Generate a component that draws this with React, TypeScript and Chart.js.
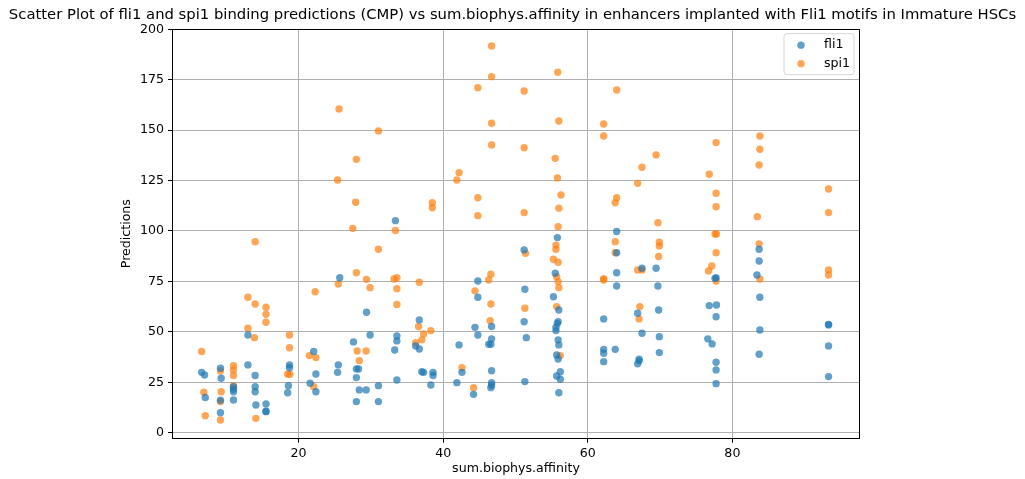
import React, { useEffect, useRef } from 'react';
import { Chart, registerables } from 'chart.js';

Chart.register(...registerables);

// ---- data ----
const fli1X = [
  6.6, 7.0, 7.1,
  9.2, 9.3, 9.2, 9.2,
  11.0, 11.0, 11.0, 11.0,
  13.0, 13.0, 14.0, 14.0, 14.0, 14.1,
  15.5, 15.5, 15.5,
  18.75, 18.75, 18.6, 18.5,
  22.1, 21.6, 22.4, 22.4,
  25.7, 25.5, 25.4,
  27.6, 28.0, 28.3, 28.0, 28.0, 28.4,
  29.35, 29.4, 29.9,
  31.05, 31.05,
  33.4, 33.6, 33.6, 33.3, 33.6,
  36.7, 36.2, 36.7, 37.05, 37.3, 38.6, 38.6, 38.3,
  42.2, 42.6, 41.9,
  44.8, 44.8, 44.4, 44.8, 44.2,
  46.7, 46.7, 46.3, 46.6, 46.7, 46.7, 46.6, 46.7,
  51.2, 51.3, 51.2, 51.5, 51.3,
  55.8, 55.5, 55.25, 56.0, 55.9, 55.8, 55.6, 55.6, 55.9, 56.0, 55.7, 55.9, 55.7, 56.2, 56.2, 56.0,
  62.2, 62.2, 62.2, 62.2,
  64.0, 64.0, 64.0, 64.0, 63.8,
  67.5, 66.9, 67.5, 67.1, 67.1, 66.9,
  69.45, 69.7, 69.8, 69.9, 69.9,
  77.75, 77.6, 76.8, 77.8, 77.75, 76.6, 77.2, 77.75, 77.75, 77.75,
  83.7, 83.7, 83.4, 83.8, 83.8, 83.7,
  93.3, 93.3, 93.3, 93.3,
];
const fli1Y = [
  29.9, 28.6, 17.4,
  31.9, 27.0, 16.1, 9.9,
  22.8, 21.5, 20.3, 16.2,
  48.4, 33.6, 28.3, 22.8, 20.3, 13.7,
  14.2, 10.4, 10.6,
  33.6, 32.2, 23.3, 19.8,
  40.2, 24.5, 29.1, 20.3,
  76.8, 33.6, 29.9,
  45.0, 31.6, 31.6, 27.3, 15.4, 21.2,
  21.2, 59.7, 48.4,
  23.3, 15.4,
  105.1, 47.9, 45.5, 41.0, 26.1,
  55.9, 43.0, 41.5, 30.2, 29.9, 29.9, 28.3, 23.6,
  43.5, 29.9, 24.8,
  75.2, 67.1, 52.2, 48.4, 19.0,
  52.6, 46.5, 43.8, 43.8, 30.7, 24.8, 22.3, 23.5,
  90.6, 71.1, 55.0, 47.1, 25.3,
  96.7, 79.0, 67.4, 60.8, 55.0, 54.2, 52.2, 50.6, 46.0, 43.5, 38.5, 36.5, 28.1, 30.2, 26.5, 19.8,
  56.4, 41.3, 39.4, 35.2,
  99.7, 89.2, 79.3, 72.7, 41.3,
  81.5, 59.2, 49.3, 36.4, 35.6, 34.1,
  81.5, 72.7, 60.8, 47.6, 39.7,
  76.8, 76.5, 63.0, 63.3, 57.5, 46.5, 44.0, 34.9, 31.1, 24.3,
  90.9, 85.1, 78.2, 67.1, 50.9, 38.9,
  53.7, 53.4, 43.0, 27.8,
];
const spi1X = [
  6.6, 6.9, 7.1,
  9.2, 9.3, 9.2, 9.2,
  11.0, 11.0, 11.0, 11.0,
  13.0, 14.0, 14.0, 13.0, 13.9, 14.1,
  15.5, 15.5, 15.5,
  18.75, 18.75, 18.5, 18.8,
  21.5, 22.4, 22.1, 22.3,
  25.6, 25.4, 25.5,
  27.5, 28.0, 28.1, 28.4, 28.0, 27.9,
  29.4, 29.9, 29.35,
  31.05, 31.05,
  33.4, 33.2, 33.6, 33.6, 33.6,
  36.7, 36.6, 37.3, 38.3, 36.2, 37.05, 38.5, 38.5,
  42.2, 41.9, 42.6,
  44.8, 44.8, 44.8, 44.4, 44.2,
  46.7, 46.7, 46.7, 46.7, 46.3, 46.6, 46.6, 46.5,
  51.2, 51.2, 51.2, 51.4, 51.3,
  55.85, 56.0, 55.5, 55.8, 56.3, 56.0, 55.9, 55.6, 55.6, 55.25, 55.9, 55.7, 55.9, 56.0, 55.7, 56.2,
  62.2, 62.2, 62.2, 62.2,
  64.0, 64.0, 63.8, 63.8, 63.8,
  67.5, 66.9, 66.9, 67.5, 67.2, 67.1,
  69.45, 69.7, 69.9, 69.9, 69.8,
  77.75, 76.8, 77.75, 77.75, 77.6, 77.8, 77.75, 77.15, 76.7, 77.75,
  83.8, 83.8, 83.7, 83.45, 83.7, 83.8,
  93.3, 93.3, 93.3, 93.3,
];
const spi1Y = [
  40.2, 20.0, 8.4,
  30.6, 20.3, 15.4, 6.3,
  33.2, 31.1, 28.3, 23.3,
  67.1, 63.8, 94.7, 51.8, 47.1, 7.1,
  62.2, 58.7, 54.7,
  48.4, 42.1, 29.0, 29.0,
  38.2, 37.2, 22.8, 69.9,
  160.5, 125.3, 73.7,
  101.3, 79.3, 40.5, 35.7, 135.5, 114.2,
  76.0, 71.9, 40.5,
  90.9, 149.6,
  100.2, 76.2, 76.8, 71.4, 63.5,
  74.6, 52.6, 48.9, 50.6, 44.6, 46.0, 114.0, 111.5,
  128.9, 125.3, 32.2,
  171.0, 116.5, 107.6, 70.3, 22.3,
  191.7, 176.5, 153.4, 142.6, 75.7, 78.5, 63.8, 55.5,
  169.4, 141.3, 109.1, 88.9, 61.7,
  178.7, 154.5, 136.0, 126.3, 117.8, 111.3, 102.1, 93.0, 90.9, 86.0, 84.5, 77.3, 74.9, 71.9, 62.5, 38.2,
  153.0, 147.1, 75.7, 76.3,
  169.9, 116.5, 114.0, 94.7, 89.2,
  131.6, 123.6, 80.7, 80.7, 62.5, 56.4,
  137.7, 104.1, 94.4, 92.6, 87.3,
  143.8, 128.1, 118.7, 112.0, 98.5, 98.5, 89.2, 82.6, 80.2, 75.2,
  147.1, 140.5, 132.7, 107.1, 93.6, 76.2,
  120.8, 109.1, 80.7, 78.2,
];

const seriesNames = ['fli1', 'spi1'];
const seriesColors = ['rgba(31,119,180,0.7)', 'rgba(255,127,14,0.7)'];
const xTicks = [20, 40, 60, 80];
const yTicks = [0, 25, 50, 75, 100, 125, 150, 175, 200];
const titleText =
  'Scatter Plot of fli1 and spi1 binding predictions (CMP) vs sum.biophys.affinity in enhancers implanted with Fli1 motifs in Immature HSCs';
const xLabel = 'sum.biophys.affinity';
const yLabel = 'Predictions';

const FONT = "'DejaVu Sans', sans-serif";
const LABEL_SIZE = 12.6;

const framePlugin = {
  id: 'frameAndLegend',
  afterDraw(chart: any) {
    const { ctx, chartArea: a } = chart;
    ctx.save();
    // axes box (all four spines)
    ctx.strokeStyle = '#000';
    ctx.lineWidth = 1;
    const l = Math.round(a.left) + 0.5;
    const t = Math.round(a.top) + 0.5;
    const r = Math.round(a.right) - 0.5;
    const b = Math.round(a.bottom) - 0.5;
    ctx.strokeRect(l, t, r - l, b - t);

    // legend box in the upper right of the axes
    const w = 70;
    const h = 41;
    const bx = a.right - 6 - w;
    const by = a.top + 5;
    const rad = 3;
    ctx.beginPath();
    ctx.moveTo(bx + rad, by);
    ctx.lineTo(bx + w - rad, by);
    ctx.quadraticCurveTo(bx + w, by, bx + w, by + rad);
    ctx.lineTo(bx + w, by + h - rad);
    ctx.quadraticCurveTo(bx + w, by + h, bx + w - rad, by + h);
    ctx.lineTo(bx + rad, by + h);
    ctx.quadraticCurveTo(bx, by + h, bx, by + h - rad);
    ctx.lineTo(bx, by + rad);
    ctx.quadraticCurveTo(bx, by, bx + rad, by);
    ctx.closePath();
    ctx.fillStyle = 'rgba(255,255,255,0.8)';
    ctx.fill();
    ctx.strokeStyle = '#d6d6d6';
    ctx.lineWidth = 1;
    ctx.stroke();

    ctx.font = `${LABEL_SIZE}px ${FONT}`;
    ctx.textBaseline = 'middle';
    ctx.textAlign = 'left';
    chart.data.datasets.forEach((ds: any, i: number) => {
      const cy = by + 11.5 + i * 18.5;
      ctx.beginPath();
      ctx.arc(bx + 17, cy, 3.7, 0, Math.PI * 2);
      ctx.fillStyle = ds.backgroundColor;
      ctx.fill();
      ctx.fillStyle = '#000';
      ctx.fillText(ds.label, bx + 40, cy);
    });
    ctx.restore();
  },
};

export default function App() {
  const ref = useRef<HTMLCanvasElement | null>(null);

  useEffect(() => {
    if (!ref.current) return;
    const makeData = (xs: number[], ys: number[]) => xs.map((x, i) => ({ x, y: ys[i] }));
    const chart = new Chart(ref.current, {
      type: 'scatter',
      data: {
        datasets: [
          {
            label: seriesNames[0],
            data: makeData(fli1X, fli1Y),
            backgroundColor: seriesColors[0],
            borderWidth: 0,
            pointRadius: 3.7,
            pointHoverRadius: 3.7,
          },
          {
            label: seriesNames[1],
            data: makeData(spi1X, spi1Y),
            backgroundColor: seriesColors[1],
            borderWidth: 0,
            pointRadius: 3.7,
            pointHoverRadius: 3.7,
          },
        ],
      },
      options: {
        animation: false,
        responsive: false,
        events: [],
        layout: { padding: 0 },
        plugins: {
          legend: { display: false },
          tooltip: { enabled: false },
          title: {
            display: true,
            text: titleText,
            color: '#000',
            font: { family: FONT, size: 14.8, weight: 'normal' },
            padding: { top: 6.7, bottom: 4.2 },
          },
        },
        scales: {
          x: {
            type: 'linear',
            min: 2.5,
            max: 97.65,
            afterBuildTicks: (s: any) => {
              s.ticks = xTicks.map((v) => ({ value: v }));
            },
            afterFit: (s: any) => {
              s.height = 40.3;
            },
            grid: { color: '#b0b0b0', lineWidth: 1, tickColor: '#000', tickLength: 4, tickWidth: 1 },
            border: { display: false },
            ticks: {
              color: '#000',
              font: { family: FONT, size: LABEL_SIZE },
              padding: 3,
              autoSkip: false,
              maxRotation: 0,
              callback: (v: any) => String(v),
            },
            title: {
              display: true,
              text: xLabel,
              color: '#000',
              font: { family: FONT, size: LABEL_SIZE },
              padding: { top: 0, bottom: 2.5 },
            },
          },
          y: {
            type: 'linear',
            min: -3,
            max: 200.3,
            afterBuildTicks: (s: any) => {
              s.ticks = yTicks.map((v) => ({ value: v }));
            },
            afterFit: (s: any) => {
              s.width = 172;
            },
            grid: { color: '#b0b0b0', lineWidth: 1, tickColor: '#000', tickLength: 4, tickWidth: 1 },
            border: { display: false },
            ticks: {
              color: '#000',
              font: { family: FONT, size: LABEL_SIZE },
              padding: 4,
              autoSkip: false,
              callback: (v: any) => String(v),
            },
            title: {
              display: true,
              text: yLabel,
              color: '#000',
              font: { family: FONT, size: LABEL_SIZE },
              padding: { top: 119.4, bottom: 0 },
            },
          },
          // empty right-hand gutter so the title can span the whole figure width
          gutter: {
            type: 'linear',
            position: 'right',
            display: true,
            min: 0,
            max: 1,
            afterFit: (s: any) => {
              s.width = 165;
            },
            grid: { display: false, drawTicks: false },
            border: { display: false },
            ticks: { display: false },
          },
        },
      },
      plugins: [framePlugin],
    });
    return () => chart.destroy();
  }, []);

  return (
    <div style={{ position: 'absolute', left: 0, top: 0, width: 1025, height: 479, background: '#fff' }}>
      <canvas ref={ref} width={1025} height={479} style={{ display: 'block' }} />
    </div>
  );
}
